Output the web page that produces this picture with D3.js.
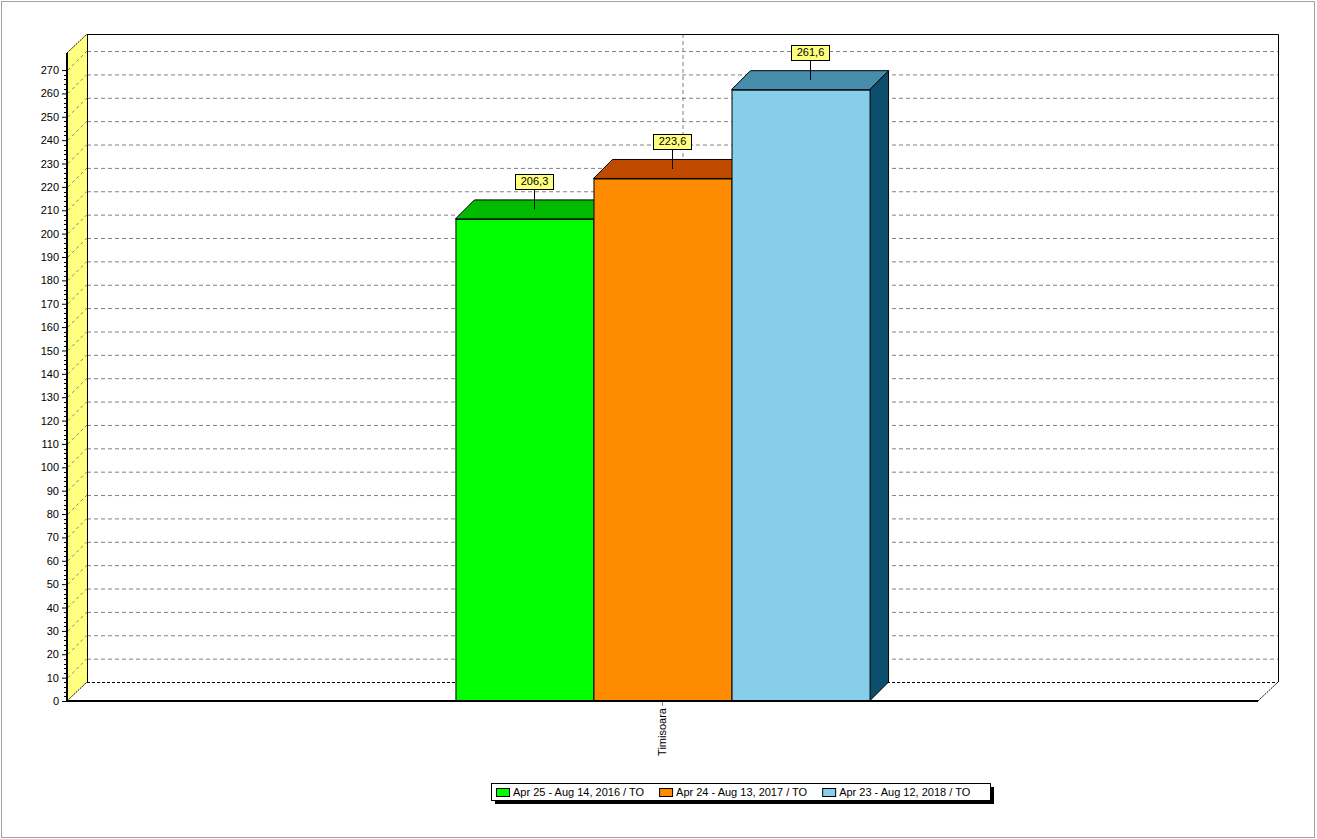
<!DOCTYPE html>
<html><head><meta charset="utf-8">
<script src="https://cdn.jsdelivr.net/npm/d3@7"></script>
<style>html,body{margin:0;padding:0;background:#fff;overflow:hidden}svg{display:block;font-family:"Liberation Sans",Arial,sans-serif}</style>
</head><body><svg id="c" width="1317" height="839"></svg>
<script>
const categories = ["Timisoara"];
const seriesNames = ["Apr 25 - Aug 14, 2016 / TO", "Apr 24 - Aug 13, 2017 / TO", "Apr 23 - Aug 12, 2018 / TO"];
const seriesValues = [[206.3], [223.6], [261.6]];
const yTickValues = d3.range(0, 271, 10);
const frontColors = ["#00FF00", "#FF8C00", "#87CEEB"];
const topColors = ["#00BB00", "#BF4A00", "#468EAB"];
const sideColors = ["#008A00", "#8A3600", "#0B4F6C"];

const svg = d3.select("#c");
const X0 = 67, X1 = 1258, YB = 701, YT = 53, WDX = 20, WDY = 19, BD = 19;
const fmt = v => d3.format(".1f")(v).replace(".", ",");

const maxV = d3.max(seriesValues.flat());
const y = d3.scaleLinear().domain([0, maxV * 1.06]).range([YB, YT]);
const x = d3.scaleBand().domain(categories).range([X0, X1]).paddingInner(0).paddingOuter(0.938);
const xs = d3.scaleBand().domain(d3.range(seriesNames.length)).range([0, x.bandwidth()]).padding(0);

// outer frame
svg.append("rect").attr("x", 1.5).attr("y", 1.5).attr("width", 1313).attr("height", 836)
  .attr("fill", "#fff").attr("stroke", "#a0a0a0");

// back wall
svg.append("rect").attr("x", X0 + WDX).attr("y", YT - WDY).attr("width", X1 - X0).attr("height", YB - YT)
  .attr("fill", "#fff").attr("stroke", "none");
// gridlines on back wall
svg.append("g").selectAll("line").data(yTickValues.filter(v => v > 0)).join("line")
  .attr("x1", X0 + WDX).attr("x2", X1 + WDX)
  .attr("y1", d => y(d) - WDY + 0.5).attr("y2", d => y(d) - WDY + 0.5)
  .attr("stroke", "#808080").attr("stroke-dasharray", "4,3");
// vertical category gridline
svg.append("g").selectAll("line").data(categories).join("line")
  .attr("x1", d => x(d) + x.bandwidth() / 2 + WDX + 0.5).attr("x2", d => x(d) + x.bandwidth() / 2 + WDX + 0.5)
  .attr("y1", YT - WDY).attr("y2", YB - WDY)
  .attr("stroke", "#808080").attr("stroke-dasharray", "4,3");
// back floor edge
svg.append("line").attr("x1", X0 + WDX).attr("x2", X1 + WDX).attr("y1", YB - WDY + 0.5).attr("y2", YB - WDY + 0.5)
  .attr("stroke", "#000").attr("stroke-dasharray", "3,2");
// back wall top and right edges
svg.append("path").attr("d", `M${X0 + WDX + 0.5},${YT - WDY + 0.5}H${X1 + WDX + 0.5}V${YB - WDY}`)
  .attr("fill", "none").attr("stroke", "#000");

// left wall
svg.append("path").attr("d", `M${X0},${YT}L${X0 + WDX},${YT - WDY}L${X0 + WDX},${YB - WDY}L${X0},${YB}Z`)
  .attr("fill", "#FFFF80");
svg.append("line").attr("x1", X0 + WDX + 0.5).attr("x2", X0 + WDX + 0.5).attr("y1", YT - WDY).attr("y2", YB - WDY)
  .attr("stroke", "#000");
svg.append("g").selectAll("line").data(yTickValues.filter(v => v > 0)).join("line")
  .attr("x1", X0 + 1).attr("x2", X0 + WDX)
  .attr("y1", d => y(d)).attr("y2", d => y(d) - WDY)
  .attr("stroke", "#808080").attr("stroke-dasharray", "3,3");
svg.append("line").attr("x1", X0).attr("y1", YT).attr("x2", X0 + WDX).attr("y2", YT - WDY)
  .attr("stroke", "#000").attr("stroke-dasharray", "2,1");
svg.append("line").attr("x1", X0).attr("y1", YB).attr("x2", X0 + WDX).attr("y2", YB - WDY)
  .attr("stroke", "#000").attr("stroke-dasharray", "2,1");
svg.append("line").attr("x1", X1).attr("y1", YB).attr("x2", X1 + WDX).attr("y2", YB - WDY)
  .attr("stroke", "#000").attr("stroke-dasharray", "2,1");

// bars
const bars = svg.append("g");
seriesNames.forEach((name, i) => {
  categories.forEach((cat, j) => {
    const v = seriesValues[i][j];
    const bx = x(cat) + xs(i), w = xs.bandwidth(), yv = y(v);
    const g = bars.append("g");
    g.append("path").attr("d", `M${bx + w},${yv}L${bx + w + BD},${yv - BD}L${bx + w + BD},${YB - BD}L${bx + w},${YB}Z`)
      .attr("fill", sideColors[i]).attr("stroke", "#000").attr("stroke-linejoin", "round");
    g.append("path").attr("d", `M${bx},${yv}L${bx + BD},${yv - BD}L${bx + w + BD},${yv - BD}L${bx + w},${yv}Z`)
      .attr("fill", topColors[i]).attr("stroke", "#000").attr("stroke-linejoin", "round");
    g.append("rect").attr("x", bx + 0.5).attr("y", yv + 0.5).attr("width", w).attr("height", YB - yv)
      .attr("fill", frontColors[i]).attr("stroke", "#000");
  });
});

// axes front lines
svg.append("line").attr("x1", X0).attr("x2", X0).attr("y1", YT).attr("y2", YB + 1)
  .attr("stroke", "#000").attr("stroke-width", 2);
svg.append("line").attr("x1", X0).attr("x2", X1).attr("y1", YB).attr("y2", YB)
  .attr("stroke", "#000").attr("stroke-width", 2);

// y axis ticks
const yAxis = d3.axisLeft(y).tickValues(yTickValues).tickSize(4).tickPadding(3).tickFormat(d3.format("d"));
const ya = svg.append("g").attr("transform", `translate(${X0 - 1},0)`).call(yAxis);
ya.select(".domain").remove();
ya.selectAll("text").attr("font-size", 11).attr("fill", "#000").attr("font-family", '"Liberation Sans",Arial,sans-serif');
ya.selectAll("line").attr("stroke", "#000");
svg.append("g").selectAll("line").data(d3.range(0, 271, 2).filter(v => v % 10 !== 0)).join("line")
  .attr("x1", X0 - 3).attr("x2", X0).attr("y1", d => Math.round(y(d)) + 0.5).attr("y2", d => Math.round(y(d)) + 0.5)
  .attr("stroke", "#000");

// x axis
const xa = svg.append("g").attr("transform", `translate(0,${YB + 1})`)
  .call(d3.axisBottom(x).tickSize(4).tickPadding(4));
xa.select(".domain").remove();
xa.selectAll("line").attr("stroke", "#808080");
xa.selectAll("text").attr("font-size", 11).attr("fill", "#000").attr("font-family", '"Liberation Sans",Arial,sans-serif')
  .attr("transform", "rotate(-90)").attr("text-anchor", "end").attr("dy", "0.35em").attr("x", -6).attr("y", 0);

// data labels
const labs = svg.append("g");
seriesNames.forEach((name, i) => {
  categories.forEach((cat, j) => {
    const v = seriesValues[i][j];
    const ax = x(cat) + xs(i) + xs.bandwidth() / 2 + BD / 2;
    const ay = y(v) - BD / 2;
    const g = labs.append("g");
    g.append("line").attr("x1", Math.round(ax) + 0.5).attr("x2", Math.round(ax) + 0.5).attr("y1", ay).attr("y2", ay - 20)
      .attr("stroke", "#000");
    const t = g.append("text").attr("x", Math.round(ax) + 0.5).attr("y", ay - 24).attr("text-anchor", "middle")
      .attr("font-size", 11).attr("fill", "#000").text(fmt(v));
    const tw = t.node().getComputedTextLength();
    g.insert("rect", "text").attr("x", Math.round(ax - tw / 2 - 5) + 0.5).attr("y", Math.round(ay - 35) + 0.5)
      .attr("width", Math.round(tw + 10)).attr("height", 15).attr("fill", "#FFFF80").attr("stroke", "#000");
  });
});

// legend
const LX = 491, LY = 783, LH = 17;
const leg = svg.append("g");
const shadow = leg.append("rect").attr("fill", "#000");
const box = leg.append("rect").attr("fill", "#fff").attr("stroke", "#000");
let cx = LX + 5;
let lastEnd = cx;
seriesNames.forEach((name, i) => {
  leg.append("rect").attr("x", cx + 0.5).attr("y", LY + 5.5).attr("width", 13).attr("height", 8)
    .attr("fill", frontColors[i]).attr("stroke", "#000");
  const t = leg.append("text").attr("x", cx + 17).attr("y", LY + 13).attr("font-size", 11).attr("fill", "#000").text(name);
  lastEnd = cx + 17 + t.node().getComputedTextLength();
  cx = lastEnd + 15;
});
const LW = Math.round(lastEnd + 20 - LX);
box.attr("x", LX + 0.5).attr("y", LY + 0.5).attr("width", LW).attr("height", LH);
shadow.attr("x", LX + 4).attr("y", LY + 4).attr("width", LW).attr("height", LH);
</script>
</body></html>
